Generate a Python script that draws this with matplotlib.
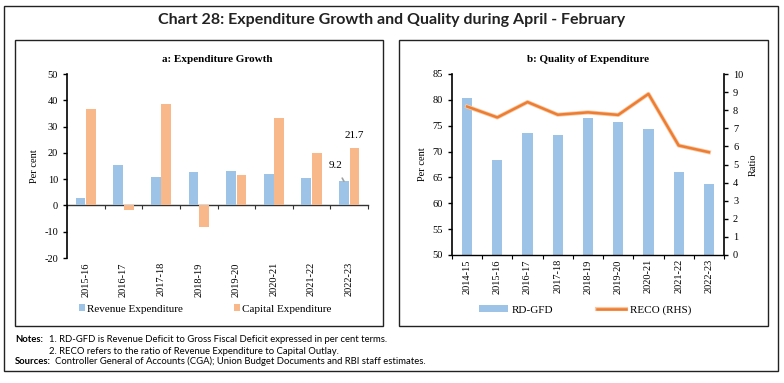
import matplotlib
matplotlib.use("Agg")
import matplotlib.pyplot as plt
import numpy as np
from matplotlib.patches import Rectangle
import matplotlib.patheffects as pe

plt.rcParams["axes.unicode_minus"] = False

# ---- data ----
years_a = ["2015-16", "2016-17", "2017-18", "2018-19", "2019-20", "2020-21", "2021-22", "2022-23"]
revenue_exp = [3.0, 15.2, 11.0, 12.9, 13.2, 12.1, 10.6, 9.2]
capital_exp = [36.5, -1.6, 38.5, -8.1, 11.7, 33.4, 20.1, 21.7]

years_b = ["2014-15", "2015-16", "2016-17", "2017-18", "2018-19", "2019-20", "2020-21", "2021-22", "2022-23"]
rd_gfd = [80.4, 68.4, 73.5, 73.3, 76.4, 75.7, 74.3, 66.0, 63.7]
reco = [8.2, 7.6, 8.45, 7.75, 7.88, 7.74, 8.9, 6.05, 5.68]

BLUE = "#9DC3E6"
ORANGE_BAR = "#F8B889"
ORANGE_LINE = "#ED7D31"
SERIF = "Liberation Serif"
SANS = "Lato"

W, H = 784, 383
fig = plt.figure(figsize=(W / 100, H / 100), dpi=100)

def fx(px):
    return px / W

def fy(py):
    return 1 - py / H

def box(x0, y0, x1, y1, lw=1.0):
    fig.patches.append(Rectangle((fx(x0), fy(y1)), fx(x1) - fx(x0), fy(y0) - fy(y1),
                                 transform=fig.transFigure, fill=False,
                                 edgecolor="#222222", linewidth=lw))

# borders
box(4, 6, 778, 371, lw=1.0)
box(15, 40, 383, 326, lw=1.0)
box(399, 40, 768, 326, lw=1.0)

fig.text(0.5, fy(20), "Chart 28: Expenditure Growth and Quality during April - February",
         ha="center", va="center", fontsize=11.5, fontweight="bold", family=SANS, color="#222222")

# ---- panel a ----
ax = fig.add_axes([fx(67), fy(258), fx(368) - fx(67), fy(74) - fy(258)])
x = np.arange(len(years_a))
bw = 0.26
off = 0.14
ax.bar(x - off, revenue_exp, bw, color=BLUE, label="Revenue Expenditure")
ax.bar(x + off, capital_exp, bw, color=ORANGE_BAR, label="Capital Expenditure")
ax.set_xlim(-0.5, len(years_a) - 0.5)
ax.set_ylim(-20, 50)
ax.set_yticks(np.arange(-20, 51, 10))
ax.set_xticks(x)
ax.set_xticklabels(years_a, rotation=90, family=SERIF, fontsize=7.5)
ax.tick_params(axis="x", length=0, pad=3)
ax.tick_params(axis="y", labelsize=7.5, length=3, width=1, direction="out")
for lab in ax.get_yticklabels():
    lab.set_family(SERIF)
for s in ["top", "right", "bottom"]:
    ax.spines[s].set_visible(False)
ax.spines["left"].set_linewidth(1.2)
ax.set_ylabel("Per cent", family=SERIF, fontsize=7.5, labelpad=4)
sec = ax.secondary_xaxis(0, transform=ax.transData)
sec.set_xticks(np.arange(-0.5, len(years_a), 1.0))
sec.set_xticklabels([])
sec.tick_params(length=3, width=0.8, direction="out", color="#333333")
sec.spines["bottom"].set_linewidth(1.0)
sec.spines["bottom"].set_color("#333333")
ax.set_title("a: Expenditure Growth", family=SERIF, fontweight="bold", fontsize=8, pad=9)

ax.annotate(f"{revenue_exp[-1]:.1f}", xy=(x[-1] - off, revenue_exp[-1]), xytext=(-6, 11),
            textcoords="offset points", ha="center", va="center", family=SERIF, fontsize=8,
            arrowprops=dict(arrowstyle="-", color="#A0A0A0", lw=1.2, shrinkA=4, shrinkB=0))
ax.annotate(f"{capital_exp[-1]:.1f}", xy=(x[-1] + off, capital_exp[-1]), xytext=(0, 9),
            textcoords="offset points", ha="center", va="center", family=SERIF, fontsize=8)

ax.legend(loc="center", bbox_to_anchor=(fx(205), fy(309)), bbox_transform=fig.transFigure,
          ncol=2, frameon=False, prop={"family": SERIF, "size": 8}, handlelength=0.55,
          handleheight=0.55, handletextpad=0.15, columnspacing=4.6)

# ---- panel b ----
bx = fig.add_axes([fx(452), fy(255), fx(724) - fx(452), fy(74) - fy(255)])
xb = np.arange(len(years_b))
bars = bx.bar(xb, rd_gfd, 0.34, color=BLUE, label="RD-GFD")
bx.set_xlim(-0.5, len(years_b) - 0.5)
bx.set_ylim(50, 85)
bx.set_yticks(np.arange(50, 86, 5))
bx.set_xticks(np.arange(-0.5, len(years_b), 1.0))
bx.set_xticklabels([])
bx.set_xticks(xb, minor=True)
bx.set_xticklabels(years_b, minor=True, rotation=90, family=SERIF, fontsize=7.5)
bx.tick_params(axis="x", which="major", length=3, width=0.8, direction="out")
bx.tick_params(axis="x", which="minor", length=0, pad=3)
bx.tick_params(axis="y", labelsize=7.5, length=3, width=1, direction="out")
for lab in bx.get_yticklabels():
    lab.set_family(SERIF)
bx.spines["top"].set_visible(False)
bx.spines["right"].set_visible(False)
bx.spines["left"].set_linewidth(1.2)
bx.spines["bottom"].set_linewidth(1.0)
bx.set_ylabel("Per cent", family=SERIF, fontsize=7.5, labelpad=4)
bx.set_title("b: Quality of Expenditure", family=SERIF, fontweight="bold", fontsize=8, pad=9)

bx2 = bx.twinx()
line, = bx2.plot(xb, reco, color=ORANGE_LINE, lw=1.8, label="RECO (RHS)",
                 path_effects=[pe.Stroke(linewidth=3.0, foreground="#F9C9A6"), pe.Normal()])
bx2.set_ylim(0, 10)
bx2.set_yticks(np.arange(0, 11, 1))
bx2.tick_params(axis="y", labelsize=7.5, length=3, width=1, direction="out")
for lab in bx2.get_yticklabels():
    lab.set_family(SERIF)
for s in ["top", "left", "bottom"]:
    bx2.spines[s].set_visible(False)
bx2.spines["right"].set_linewidth(1.2)
bx2.set_ylabel("Ratio", family=SERIF, fontsize=7.5, labelpad=4)

bx.legend([bars, line], ["RD-GFD", "RECO (RHS)"], loc="center",
          bbox_to_anchor=(fx(585), fy(310)), bbox_transform=fig.transFigure,
          ncol=2, frameon=False, prop={"family": SERIF, "size": 8}, handlelength=2.6,
          handleheight=0.5, handletextpad=0.3, columnspacing=4.0)

# ---- notes ----
fs = 6.8
fig.text(fx(15), fy(340), "Notes:", family=SANS, fontweight="bold", fontsize=fs, va="center")
fig.text(fx(49), fy(340), "1. RD-GFD is Revenue Deficit to Gross Fiscal Deficit expressed in per cent terms.",
         family=SANS, fontsize=fs, va="center")
fig.text(fx(49), fy(351), "2. RECO refers to the ratio of Revenue Expenditure to Capital Outlay.",
         family=SANS, fontsize=fs, va="center")
fig.text(fx(15), fy(361), "Sources:", family=SANS, fontweight="bold", fontsize=fs, va="center")
fig.text(fx(55), fy(361), "Controller General of Accounts (CGA); Union Budget Documents and RBI staff estimates.",
         family=SANS, fontsize=fs, va="center")

fig.savefig("out.png", dpi=100)
